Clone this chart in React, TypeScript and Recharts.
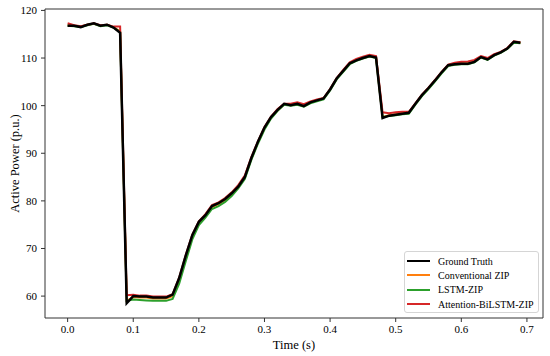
import * as React from 'react';
import { LineChart, Line, XAxis, YAxis, Legend, ReferenceLine } from 'recharts';

const time = [
  0.0, 0.01, 0.02, 0.03, 0.04, 0.05, 0.06, 0.07, 0.08, 0.09,
  0.1, 0.11, 0.12, 0.13, 0.14, 0.15, 0.16, 0.17, 0.18, 0.19,
  0.2, 0.21, 0.22, 0.23, 0.24, 0.25, 0.26, 0.27, 0.28, 0.29,
  0.3, 0.31, 0.32, 0.33, 0.34, 0.35, 0.36, 0.37, 0.38, 0.39,
  0.4, 0.41, 0.42, 0.43, 0.44, 0.45, 0.46, 0.47, 0.48, 0.49,
  0.5, 0.51, 0.52, 0.53, 0.54, 0.55, 0.56, 0.57, 0.58, 0.59,
  0.6, 0.61, 0.62, 0.63, 0.64, 0.65, 0.66, 0.67, 0.68, 0.69,
];

const groundTruth = [
  116.8, 116.8, 116.5, 117.0, 117.3, 116.8, 117.0, 116.4, 115.3, 58.5,
  60.0, 59.9, 59.9, 59.7, 59.7, 59.7, 60.3, 63.8, 68.5, 72.8,
  75.6, 77.0, 78.9, 79.5, 80.4, 81.6, 83.0, 85.0, 89.0, 92.4,
  95.4, 97.6, 99.1, 100.4, 100.1, 100.4, 99.9, 100.7, 101.1, 101.5,
  103.4, 105.7, 107.3, 108.9, 109.5, 110.0, 110.4, 110.1, 97.4, 97.9,
  98.1, 98.3, 98.5, 100.4, 102.2, 103.7, 105.3, 107.0, 108.5, 108.7,
  108.8, 108.8, 109.2, 110.2, 109.7, 110.6, 111.2, 112.0, 113.4, 113.2,
];

const conventionalZip = [
  116.9, 116.8, 116.6, 117.0, 117.2, 116.8, 117.0, 116.5, 115.6, 59.0,
  59.8, 59.7, 59.7, 59.5, 59.5, 59.5, 60.0, 63.4, 68.1, 72.4,
  75.3, 76.8, 78.7, 79.3, 80.2, 81.4, 82.9, 85.0, 88.9, 92.3,
  95.3, 97.5, 99.0, 100.3, 100.2, 100.4, 100.0, 100.7, 101.1, 101.5,
  103.4, 105.7, 107.3, 108.9, 109.5, 110.1, 110.4, 110.2, 97.6, 98.0,
  98.2, 98.4, 98.5, 100.4, 102.2, 103.7, 105.3, 107.0, 108.5, 108.8,
  108.9, 108.9, 109.3, 110.2, 109.8, 110.6, 111.2, 112.0, 113.3, 113.2,
];

const lstmZip = [
  116.8, 116.7, 116.5, 116.9, 117.2, 116.7, 116.9, 116.4, 115.5, 59.0,
  59.3, 59.2, 59.1, 59.0, 59.0, 59.0, 59.4, 62.6, 67.3, 71.9,
  74.9, 76.5, 78.3, 78.9, 79.8, 81.0, 82.6, 84.6, 88.6, 92.0,
  95.0, 97.3, 98.9, 100.2, 100.0, 100.2, 99.8, 100.5, 100.9, 101.3,
  103.2, 105.5, 107.1, 108.7, 109.4, 109.9, 110.3, 110.0, 97.6, 97.8,
  98.0, 98.2, 98.3, 100.2, 102.0, 103.5, 105.1, 106.8, 108.3, 108.6,
  108.7, 108.7, 109.1, 110.1, 109.6, 110.5, 111.1, 111.9, 113.2, 113.1,
];

const attentionZip = [
  117.3, 116.9, 116.7, 117.0, 117.3, 116.9, 117.0, 116.6, 116.6, 60.2,
  60.3, 60.1, 60.1, 59.9, 59.9, 59.9, 60.4, 63.9, 68.6, 72.9,
  75.7, 77.2, 79.1, 79.7, 80.6, 81.8, 83.3, 85.3, 89.2, 92.5,
  95.5, 97.7, 99.3, 100.4, 100.4, 100.7, 100.3, 100.9, 101.3, 101.6,
  103.5, 105.8, 107.5, 109.1, 109.8, 110.3, 110.7, 110.4, 98.6, 98.4,
  98.6, 98.7, 98.7, 100.5, 102.3, 103.8, 105.4, 107.1, 108.6, 109.0,
  109.2, 109.3, 109.6, 110.4, 110.0, 110.8, 111.3, 112.1, 113.5, 113.3,
];

const xTicks = [0, 0.1, 0.2, 0.3, 0.4, 0.5, 0.6, 0.7];
const yTicks = [60, 70, 80, 90, 100, 110, 120];
const xDomain: [number, number] = [-0.0345, 0.7245];
const yDomain: [number, number] = [55.4, 120.3];

const data = time.map((t, i) => ({
  t,
  gt: groundTruth[i],
  conv: conventionalZip[i],
  lstm: lstmZip[i],
  att: attentionZip[i],
}));

const FONT = '"Liberation Serif", "Times New Roman", serif';

const legendItems = [
  { name: 'Ground Truth', color: '#000000' },
  { name: 'Conventional ZIP', color: '#ff7f0e' },
  { name: 'LSTM-ZIP', color: '#2ca02c' },
  { name: 'Attention-BiLSTM-ZIP', color: '#d62728' },
];

const renderLegend = () => (
  <div
    style={{
      boxSizing: 'border-box',
      width: 135,
      height: 62,
      border: '1px solid #d5d5d5',
      borderRadius: 3,
      background: 'rgba(255,255,255,0.85)',
      padding: '2px 0 0 2px',
      fontFamily: FONT,
      fontSize: 10,
      color: '#000',
      whiteSpace: 'nowrap',
    }}
  >
    {legendItems.map((it) => (
      <div key={it.name} style={{ display: 'flex', alignItems: 'center', height: 14.3 }}>
        <svg width={24} height={4} style={{ marginRight: 7, flex: 'none' }}>
          <line x1={0} y1={2} x2={23} y2={2} stroke={it.color} strokeWidth={2} />
        </svg>
        <span>{it.name}</span>
      </div>
    ))}
  </div>
);

const tickStyle = { fontFamily: FONT, fontSize: 11, fill: '#000' };

export default function App() {
  return (
    <div style={{ position: 'absolute', left: 0, top: 0, background: '#fff' }}>
      <LineChart
        width={550}
        height={356}
        data={data}
        margin={{ top: 9, right: 7, bottom: 0, left: 0 }}
      >
        <XAxis
          dataKey="t"
          type="number"
          domain={xDomain}
          ticks={xTicks}
          allowDataOverflow
          tickFormatter={(v: number) => v.toFixed(1)}
          tick={tickStyle}
          tickSize={4}
          tickMargin={3}
          stroke="#333"
          tickLine={{ stroke: '#333' }}
          height={38}
          label={{
            content: () => (
              <text x={294} y={349} textAnchor="middle" fontFamily={FONT} fontSize={12.5} fill="#000">
                Time (s)
              </text>
            ),
          }}
        />
        <YAxis
          type="number"
          domain={yDomain}
          ticks={yTicks}
          allowDataOverflow
          tick={tickStyle}
          tickSize={4}
          tickMargin={4}
          stroke="#333"
          tickLine={{ stroke: '#333' }}
          width={45}
          label={{
            content: () => (
              <text
                x={19}
                y={163.5}
                transform="rotate(-90 19 163.5)"
                textAnchor="middle"
                fontFamily={FONT}
                fontSize={12.5}
                fill="#000"
              >
                Active Power (p.u.)
              </text>
            ),
          }}
        />
        <ReferenceLine y={yDomain[1]} stroke="#333" ifOverflow="extendDomain" />
        <ReferenceLine x={xDomain[1]} stroke="#333" ifOverflow="extendDomain" />
        <Legend
          layout="vertical"
          align="center"
          verticalAlign="middle"
          content={renderLegend}
          wrapperStyle={{ left: 404, top: 251, width: 135, right: 'auto', bottom: 'auto' }}
        />
        <Line type="linear" dataKey="conv" stroke="#ff7f0e" strokeWidth={2} dot={false} isAnimationActive={false} />
        <Line type="linear" dataKey="lstm" stroke="#2ca02c" strokeWidth={2} dot={false} isAnimationActive={false} />
        <Line type="linear" dataKey="att" stroke="#d62728" strokeWidth={2} dot={false} isAnimationActive={false} />
        <Line type="linear" dataKey="gt" stroke="#000000" strokeWidth={2.5} dot={false} isAnimationActive={false} />
      </LineChart>
    </div>
  );
}
